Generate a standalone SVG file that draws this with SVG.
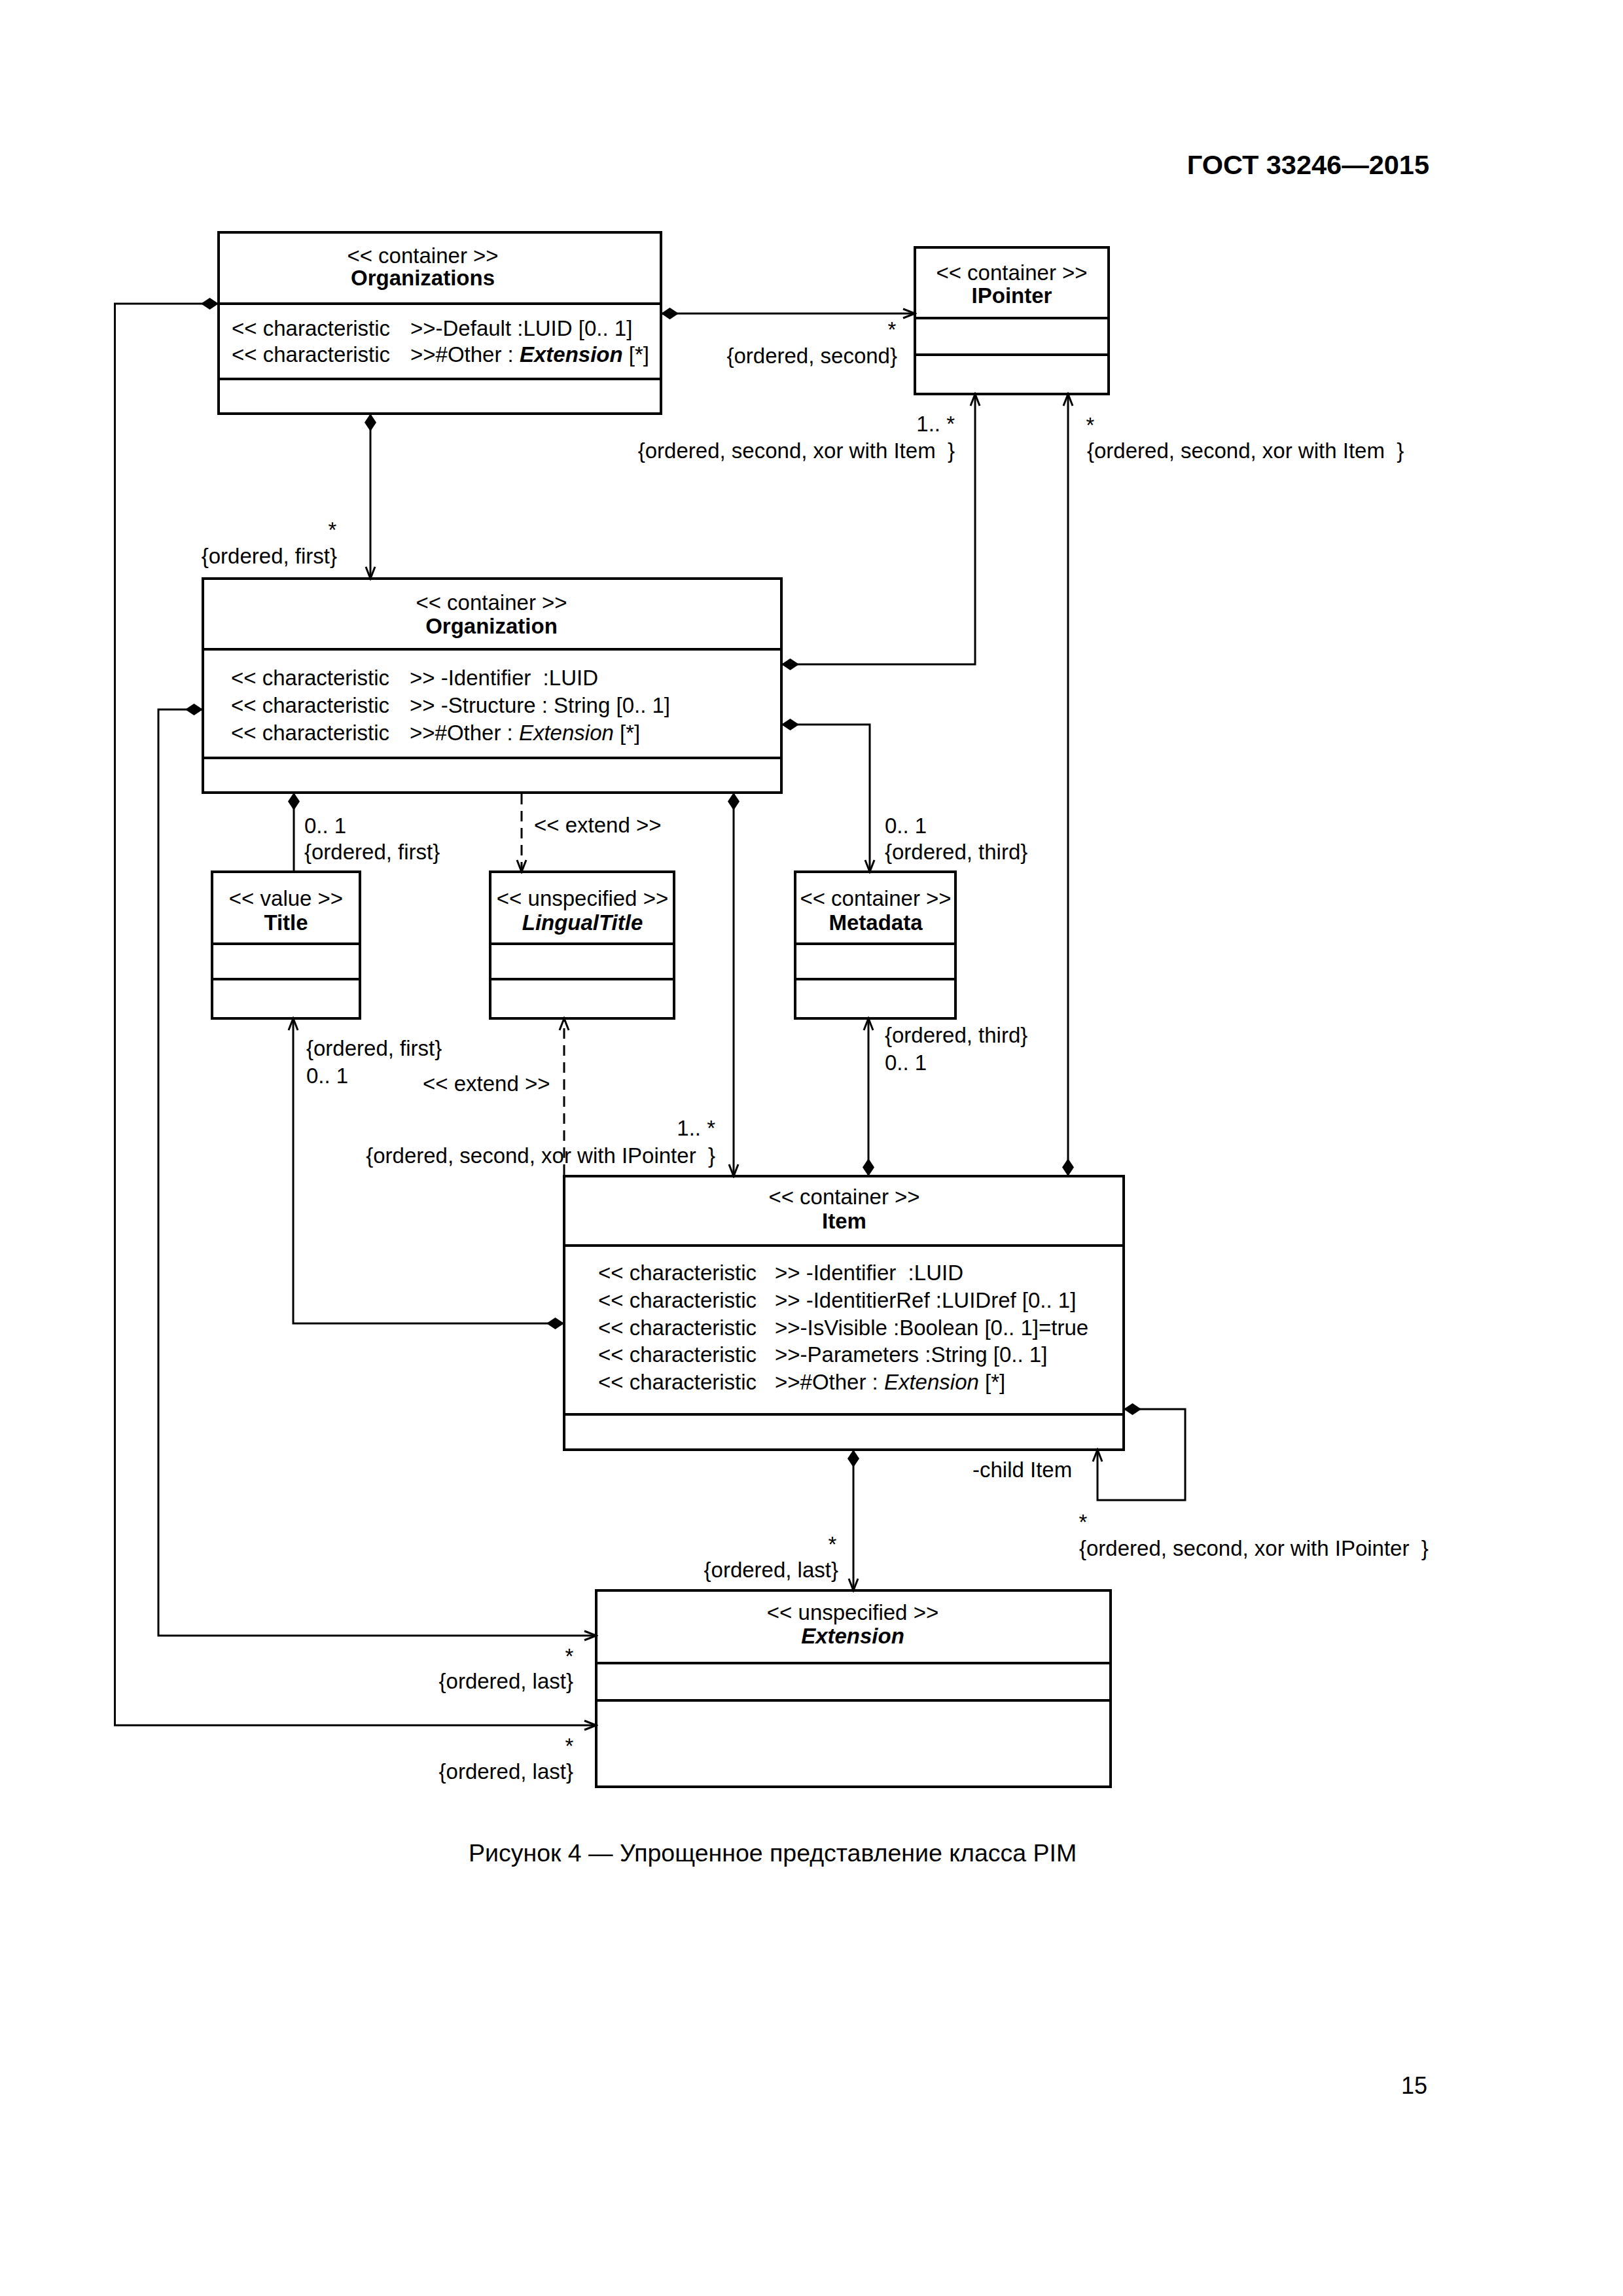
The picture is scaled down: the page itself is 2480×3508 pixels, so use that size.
<svg xmlns="http://www.w3.org/2000/svg" width="2480" height="3508" viewBox="0 0 2480 3508">
<style>
text{font-family:"Liberation Sans",Arial,sans-serif;font-size:33px;fill:#000;white-space:pre}
.b{font-weight:bold}
.i{font-style:italic}
.m{text-anchor:middle}
.e{text-anchor:end}
.box{fill:#fff;stroke:#000;stroke-width:4}
.dv{fill:none;stroke:#000;stroke-width:4}
.c{fill:none;stroke:#000;stroke-width:3}
.dash{stroke-dasharray:16 10}
.dia{marker-start:url(#dia)}
.arr{marker-end:url(#arr)}
</style>
<defs>
<marker id="dia" markerUnits="userSpaceOnUse" viewBox="0 0 30 20" markerWidth="30" markerHeight="20" refX="0" refY="10" orient="auto">
<path d="M0,10 L13.5,1 L27,10 L13.5,19 Z" fill="#000"/>
</marker>
<marker id="arr" markerUnits="userSpaceOnUse" viewBox="0 0 22 18" markerWidth="22" markerHeight="18" refX="19" refY="9" orient="auto">
<path d="M1,2 L19,9 L1,16" fill="none" stroke="#000" stroke-width="3"/>
</marker>
</defs>
<rect width="2480" height="3508" fill="#fff"/>
<text class="b e" x="2184" y="266" style="font-size:41.5px">ГОСТ 33246—2015</text>

<g id="Organizations">
<rect class="box" x="334" y="355" width="676" height="277"/>
<path class="dv" d="M334,464 H1010 M334,579 H1010"/>
<text class="m" x="646" y="402">&lt;&lt; container &gt;&gt;</text>
<text class="m b" x="646" y="436">Organizations</text>
<text x="354" y="513">&lt;&lt; characteristic<tspan x="627">&gt;&gt;-Default :LUID [0.. 1]</tspan></text>
<text x="354" y="553">&lt;&lt; characteristic<tspan x="627">&gt;&gt;#Other : </tspan><tspan class="b i">Extension</tspan> [*]</text>
</g>

<g id="IPointer">
<rect class="box" x="1398" y="378" width="296" height="224"/>
<path class="dv" d="M1398,486 H1694 M1398,542 H1694"/>
<text class="m" x="1546" y="428">&lt;&lt; container &gt;&gt;</text>
<text class="m b" x="1546" y="463">IPointer</text>
</g>

<g id="Organization">
<rect class="box" x="310" y="884" width="884" height="327"/>
<path class="dv" d="M310,992 H1194 M310,1158 H1194"/>
<text class="m" x="751" y="932">&lt;&lt; container &gt;&gt;</text>
<text class="m b" x="751" y="968">Organization</text>
<text x="353" y="1047">&lt;&lt; characteristic<tspan x="626">&gt;&gt; -Identifier  :LUID</tspan></text>
<text x="353" y="1089">&lt;&lt; characteristic<tspan x="626">&gt;&gt; -Structure : String [0.. 1]</tspan></text>
<text x="353" y="1131">&lt;&lt; characteristic<tspan x="626">&gt;&gt;#Other : </tspan><tspan class="i">Extension</tspan> [*]</text>
</g>

<g id="Title">
<rect class="box" x="324" y="1332" width="226" height="224"/>
<path class="dv" d="M324,1442 H550 M324,1496 H550"/>
<text class="m" x="437" y="1384">&lt;&lt; value &gt;&gt;</text>
<text class="m b" x="437" y="1421">Title</text>
</g>

<g id="LingualTitle">
<rect class="box" x="749" y="1332" width="281" height="224"/>
<path class="dv" d="M749,1442 H1030 M749,1496 H1030"/>
<text class="m" x="890" y="1384">&lt;&lt; unspecified &gt;&gt;</text>
<text class="m b i" x="890" y="1421">LingualTitle</text>
</g>

<g id="Metadata">
<rect class="box" x="1215" y="1332" width="245" height="224"/>
<path class="dv" d="M1215,1442 H1460 M1215,1496 H1460"/>
<text class="m" x="1338" y="1384">&lt;&lt; container &gt;&gt;</text>
<text class="m b" x="1338" y="1421">Metadata</text>
</g>

<g id="Item">
<rect class="box" x="862" y="1797" width="855" height="418"/>
<path class="dv" d="M862,1903 H1717 M862,2161 H1717"/>
<text class="m" x="1290" y="1840">&lt;&lt; container &gt;&gt;</text>
<text class="m b" x="1290" y="1877">Item</text>
<text x="914" y="1956">&lt;&lt; characteristic<tspan x="1184">&gt;&gt; -Identifier  :LUID</tspan></text>
<text x="914" y="1998">&lt;&lt; characteristic<tspan x="1184">&gt;&gt; -IdentitierRef :LUIDref [0.. 1]</tspan></text>
<text x="914" y="2040">&lt;&lt; characteristic<tspan x="1184">&gt;&gt;-IsVisible :Boolean [0.. 1]=true</tspan></text>
<text x="914" y="2081">&lt;&lt; characteristic<tspan x="1184">&gt;&gt;-Parameters :String [0.. 1]</tspan></text>
<text x="914" y="2123">&lt;&lt; characteristic<tspan x="1184">&gt;&gt;#Other : </tspan><tspan class="i">Extension</tspan> [*]</text>
</g>

<g id="Extension">
<rect class="box" x="911" y="2430" width="786" height="300"/>
<path class="dv" d="M911,2541 H1697 M911,2598 H1697"/>
<text class="m" x="1303" y="2475">&lt;&lt; unspecified &gt;&gt;</text>
<text class="m b i" x="1303" y="2511">Extension</text>
</g>

<g id="connectors">
<path class="c dia arr" d="M1010,479 H1398"/>
<path class="c dia arr" d="M566,632 V884"/>
<path class="c dia arr" d="M334,464 H175.5 V2636 H911"/>
<path class="c dia arr" d="M310,1084 H242 V2499 H911"/>
<path class="c dia arr" d="M1194,1015 H1490 V602"/>
<path class="c dia arr" d="M1194,1107 H1329 V1332"/>
<path class="c dia" d="M449,1211 V1332"/>
<path class="c dash arr" d="M797,1213 V1332"/>
<path class="c dia arr" d="M1121,1211 V1797"/>
<path class="c dia arr" d="M862,2022 H448 V1556"/>
<path class="c dash arr" d="M862,1795 V1556"/>
<path class="c dia arr" d="M1327,1797 V1556"/>
<path class="c dia arr" d="M1632,1797 V602"/>
<path class="c dia arr" d="M1717,2153 H1811 V2292 H1677 V2215"/>
<path class="c dia arr" d="M1304,2215 V2430"/>
</g>

<g id="labels">
<text class="m" x="1363" y="515">*</text>
<text class="e" x="1371" y="555">{ordered, second}</text>
<text class="e" x="1459" y="659">1.. *</text>
<text class="e" x="1459" y="700">{ordered, second, xor with Item  }</text>
<text class="m" x="1666" y="661">*</text>
<text x="1661" y="700">{ordered, second, xor with Item  }</text>
<text class="m" x="508" y="821">*</text>
<text class="e" x="515" y="861">{ordered, first}</text>
<text x="465" y="1273">0.. 1</text>
<text x="465" y="1313">{ordered, first}</text>
<text x="816" y="1272">&lt;&lt; extend &gt;&gt;</text>
<text x="1352" y="1273">0.. 1</text>
<text x="1352" y="1313">{ordered, third}</text>
<text x="468" y="1613">{ordered, first}</text>
<text x="468" y="1655">0.. 1</text>
<text x="646" y="1667">&lt;&lt; extend &gt;&gt;</text>
<text x="1352" y="1593">{ordered, third}</text>
<text x="1352" y="1635">0.. 1</text>
<text class="e" x="1093" y="1735">1.. *</text>
<text class="e" x="1093" y="1777">{ordered, second, xor with IPointer  }</text>
<text x="1486" y="2257">-child Item</text>
<text class="m" x="1655" y="2337">*</text>
<text x="1649" y="2377">{ordered, second, xor with IPointer  }</text>
<text class="m" x="1272" y="2371">*</text>
<text class="e" x="1281" y="2410">{ordered, last}</text>
<text class="m" x="870" y="2542">*</text>
<text class="e" x="876" y="2580">{ordered, last}</text>
<text class="m" x="870" y="2679">*</text>
<text class="e" x="876" y="2718">{ordered, last}</text>
</g>

<text x="716" y="2844" style="font-size:37.5px">Рисунок 4 — Упрощенное представление класса PIM</text>
<text class="e" x="2181" y="3199" style="font-size:36px">15</text>
</svg>
